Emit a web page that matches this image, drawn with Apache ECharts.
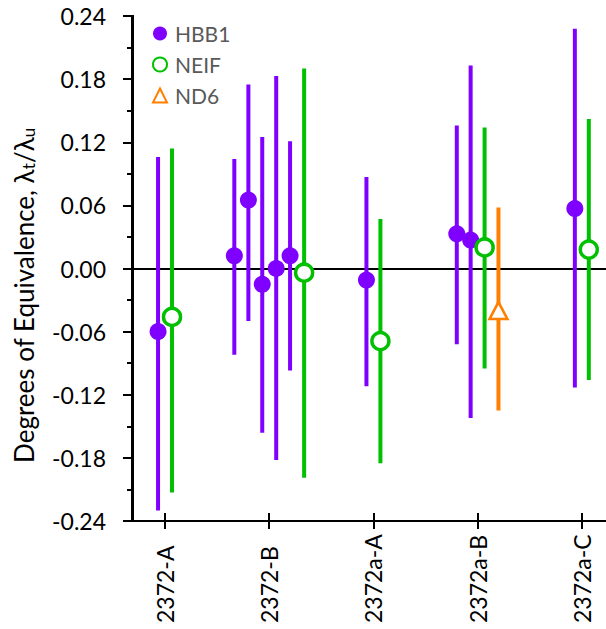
<!DOCTYPE html>
<html>
<head>
<meta charset="utf-8">
<script src="https://cdn.jsdelivr.net/npm/echarts@6/dist/echarts.min.js"></script>
<style>html,body{margin:0;padding:0;background:#fff;}#c{width:606px;height:629px;}</style>
</head>
<body>
<div id="c"></div>
<script>
const categories = ['2372-A', '2372-B', '2372a-A', '2372a-B', '2372a-C'];
const categoryPositions = [0, 1, 2, 3, 4];
const xRange = [-0.317, 4.232];
const yTicks = [-0.24, 0.24, 0.06];

const hbb1X    = [-0.067, 0.665, 0.800, 0.933, 1.067, 1.200, 1.933, 2.800, 2.933, 3.933];
const hbb1Y    = [-0.060, 0.012, 0.065, -0.015, 0.000, 0.012, -0.011, 0.033, 0.027, 0.057];
const hbb1Low  = [-0.230, -0.082, -0.050, -0.156, -0.182, -0.097, -0.112, -0.072, -0.142, -0.113];
const hbb1High = [0.106, 0.104, 0.175, 0.125, 0.183, 0.121, 0.087, 0.136, 0.193, 0.228];

const neifX    = [0.067, 1.335, 2.067, 3.067, 4.067];
const neifY    = [-0.046, -0.004, -0.069, 0.020, 0.018];
const neifLow  = [-0.213, -0.199, -0.185, -0.095, -0.106];
const neifHigh = [0.114, 0.190, 0.047, 0.134, 0.142];

const nd6X    = [3.200];
const nd6Y    = [-0.040];
const nd6Low  = [-0.135];
const nd6High = [0.058];

const PURPLE = '#7F00FF', GREEN = '#00C000', ORANGE = '#FF8000';
const FONT = 'Lato';

function pts(xs, ys) { return xs.map((x, i) => [x, ys[i]]); }
function bars(xs, lo, hi) { return xs.map((x, i) => [x, lo[i], hi[i]]); }

function errSeries(data, color, width, z) {
  return {
    type: 'custom',
    z: z || 1,
    silent: true,
    clip: false,
    data: data,
    encode: { x: 0, y: [1, 2] },
    renderItem: function (params, api) {
      const x = api.value(0);
      const p1 = api.coord([x, api.value(1)]);
      const p2 = api.coord([x, api.value(2)]);
      return {
        type: 'line',
        shape: { x1: p1[0], y1: p1[1], x2: p2[0], y2: p2[1] },
        style: { stroke: color, lineWidth: width }
      };
    }
  };
}

function spineSeries() {
  return {
    type: 'custom',
    z: 20,
    silent: true,
    clip: false,
    data: [[xRange[0], yTicks[0], yTicks[1]]],
    encode: { x: 0, y: [1, 2] },
    renderItem: function (params, api) {
      const p1 = api.coord([api.value(0), api.value(1)]);
      const p2 = api.coord([api.value(0), api.value(2)]);
      return {
        type: 'rect',
        shape: { x: p2[0] - 0.5, y: p2[1] - 1, width: 2.5, height: p1[1] - p2[1] + 2 },
        style: { fill: '#000000' }
      };
    }
  };
}

const chart = echarts.init(document.getElementById('c'), null, { renderer: 'svg' });

const xCommon = {
  type: 'value',
  min: xRange[0],
  max: xRange[1],
  splitLine: { show: false },
  gridIndex: 0
};

const hbbErr = errSeries(bars(hbb1X, hbb1Low, hbb1High), PURPLE, 4, 1);
hbbErr.markLine = {
  silent: true,
  symbol: 'none',
  z: 0,
  label: { show: false },
  lineStyle: { color: '#000', width: 2, type: 'solid', opacity: 1 },
  data: [{ yAxis: 0 }]
};

chart.setOption({
  animation: false,
  backgroundColor: '#ffffff',
  textStyle: { fontFamily: FONT },
  grid: { left: 132, right: 0, top: 16, bottom: 108, containLabel: false },
  legend: {
    orient: 'vertical',
    left: 147,
    top: 18,
    itemWidth: 14,
    itemHeight: 14,
    itemGap: 10,
    data: ['HBB1', 'NEIF', 'ND6'],
    textStyle: { fontFamily: FONT, fontSize: 21, color: '#595959', padding: [0, 0, 0, 3] }
  },
  xAxis: [
    Object.assign({}, xCommon, {
      position: 'bottom',
      axisLine: { show: true, onZero: false, lineStyle: { color: '#000', width: 2 } },
      axisTick: { show: true, inside: false, length: 8, customValues: categoryPositions, lineStyle: { color: '#000', width: 2 } },
      axisLabel: {
        show: true,
        customValues: categoryPositions,
        formatter: function (v) { return categories[Math.round(v)]; },
        rotate: 90,
        align: 'left',
        margin: 102,
        fontFamily: FONT,
        fontSize: 23,
        color: '#000'
      }
    }),
    Object.assign({}, xCommon, {
      position: 'top',
      offset: -505,
      axisLine: { show: false, onZero: false },
      axisTick: { show: true, inside: false, length: 8, customValues: categoryPositions, lineStyle: { color: '#000', width: 2 } },
      axisLabel: { show: false }
    })
  ],
  yAxis: {
    type: 'value',
    position: 'left',
    min: yTicks[0],
    max: yTicks[1],
    interval: yTicks[2],
    splitLine: { show: false },
    axisLine: { show: true, onZero: false, lineStyle: { color: '#000000', width: 2, opacity: 1 } },
    axisTick: { show: true, inside: false, length: 9, lineStyle: { color: '#000', width: 2 } },
    minorTick: { show: true, splitNumber: 2, length: 5, lineStyle: { color: '#000', width: 2 } },
    axisLabel: {
      margin: 26,
      fontFamily: FONT,
      fontSize: 23,
      color: '#000',
      formatter: function (v) { return v.toFixed(2); }
    },
    name: 'Degrees of Equivalence, λ{sub|t}/λ{sub|u}',
    nameLocation: 'middle',
    nameGap: 95,
    nameTextStyle: {
      fontFamily: FONT,
      fontSize: 26,
      color: '#000',
      padding: [0, 54, 0, 0],
      rich: {
        sub: { fontFamily: FONT, fontSize: 17, color: '#000', verticalAlign: 'bottom', padding: [10, 0, 0, 0] }
      }
    }
  },
  series: [
    spineSeries(),
    hbbErr,
    errSeries(bars(neifX, neifLow, neifHigh), GREEN, 4, 1),
    errSeries(bars(nd6X, nd6Low, nd6High), ORANGE, 4, 1),
    {
      name: 'HBB1', type: 'scatter', z: 3, symbol: 'circle', symbolSize: 17,
      itemStyle: { color: PURPLE, opacity: 1 },
      data: pts(hbb1X, hbb1Y)
    },
    {
      name: 'NEIF', type: 'scatter', z: 3, symbol: 'circle', symbolSize: 17,
      itemStyle: { color: '#ffffff', borderColor: GREEN, borderWidth: 3.5, opacity: 1 },
      data: pts(neifX, neifY)
    },
    {
      name: 'ND6', type: 'scatter', z: 3, symbol: 'triangle', symbolSize: [18, 17],
      itemStyle: { color: '#ffffff', borderColor: ORANGE, borderWidth: 2.5, opacity: 1 },
      data: pts(nd6X, nd6Y)
    }
  ]
});
</script>
</body>
</html>
